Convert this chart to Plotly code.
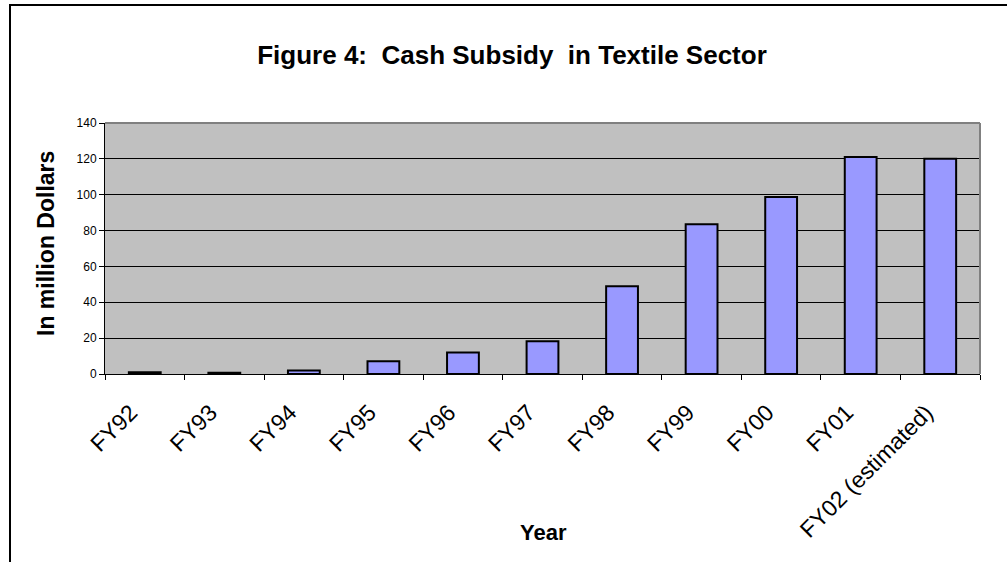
import plotly.graph_objects as go

categories = ["FY92", "FY93", "FY94", "FY95", "FY96", "FY97", "FY98", "FY99", "FY00", "FY01", "FY02 (estimated)"]
subsidy = [1.0, 0.7, 2.0, 7.1, 12.0, 18.3, 49.0, 83.5, 98.7, 121.0, 120.0]
y_ticks = [0, 20, 40, 60, 80, 100, 120, 140]

title_text = "Figure 4:  Cash Subsidy  in Textile Sector"
y_title = "In million Dollars"
x_title = "Year"

W, H = 1007, 562
L, R, T, B = 105, 27, 123, 188

fig = go.Figure()
fig.add_trace(go.Bar(
    x=categories, y=subsidy, width=0.4,
    marker=dict(color="#9999FF", line=dict(color="black", width=2)),
    showlegend=False,
))

fig.update_layout(
    width=W, height=H,
    margin=dict(l=L, r=R, t=T, b=B),
    paper_bgcolor="white",
    plot_bgcolor="#C0C0C0",
    font=dict(family="Liberation Sans, Arial, sans-serif", color="black"),
    title=dict(text=title_text, x=512 / W, xref="container", xanchor="center",
               y=1 - 55 / H, yref="container", yanchor="middle",
               font=dict(size=26, family="Liberation Sans, Arial, sans-serif", color="black", weight="bold")),
    bargap=0.6,
)

fig.update_xaxes(
    type="category", tickson="boundaries", ticks="outside", ticklen=5, tickcolor="black",
    showline=True, linecolor="black", linewidth=1, showgrid=False,
    tickangle=-45, tickfont=dict(size=23, color="black"),
    ticklabelstandoff=15, ticklabelshift=-14,
)
fig.update_yaxes(
    range=[0, 140], tickvals=y_ticks, ticks="outside", ticklen=5, tickcolor="black",
    showline=True, linecolor="black", linewidth=1,
    showgrid=True, gridcolor="black", gridwidth=1, zeroline=False,
    tickfont=dict(size=12, color="black"),
)

pw = W - L - R
ph = H - T - B
fig.add_annotation(text=y_title, xref="paper", yref="paper",
                   x=(46 - L) / pw, y=(H - B - 243) / ph, showarrow=False,
                   textangle=-90, xanchor="center", yanchor="middle",
                   font=dict(size=23, color="black", weight="bold"))
fig.add_annotation(text=x_title, xref="paper", yref="paper",
                   x=(543 - L) / pw, y=(H - B - 532) / ph, showarrow=False,
                   xanchor="center", yanchor="middle",
                   font=dict(size=22, color="black", weight="bold"))

# gray top/right border of plot area
fig.add_shape(type="line", xref="paper", yref="paper", x0=0, x1=1, y0=1, y1=1,
              line=dict(color="#808080", width=2), layer="above")
fig.add_shape(type="line", xref="paper", yref="paper", x0=1, x1=1, y0=0, y1=1,
              line=dict(color="#808080", width=2), layer="above")

# outer chart border (extends beyond the visible window right/bottom)
fig.add_shape(type="rect", xref="paper", yref="paper",
              xsizemode="pixel", ysizemode="pixel", xanchor=0, yanchor=1,
              x0=10 - L, x1=W - L + 50, y0=T - 5, y1=-(H + 50),
              line=dict(color="black", width=2), fillcolor="rgba(0,0,0,0)", layer="above")

fig.write_html("out.html")
